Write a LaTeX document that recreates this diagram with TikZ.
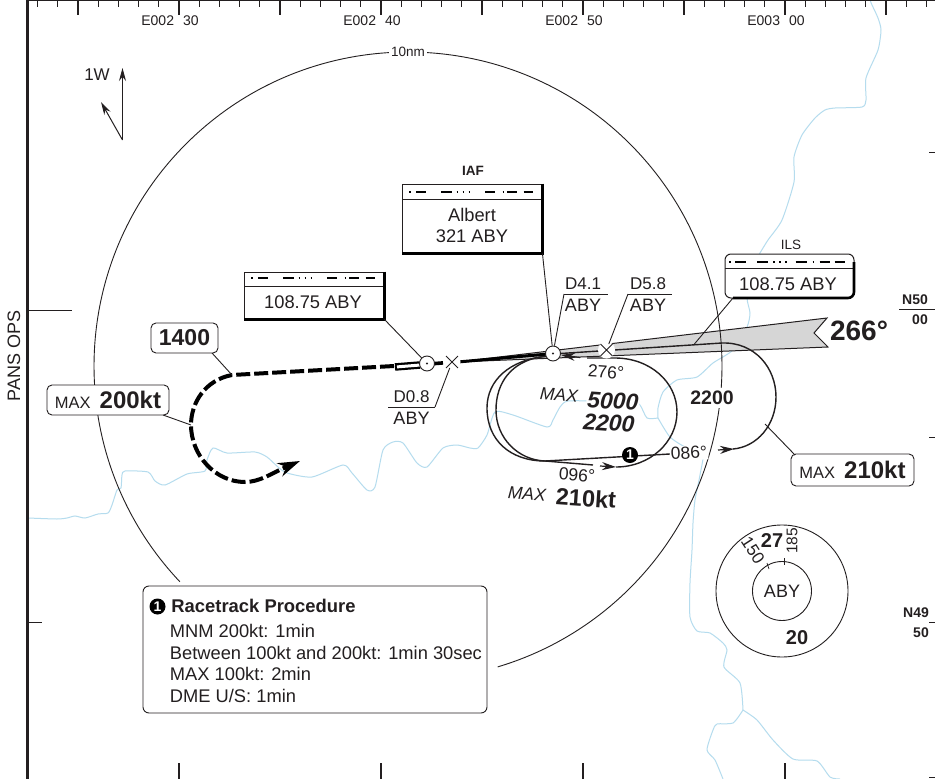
\documentclass[tikz,border=0pt]{standalone}
\usepackage{fontspec}
\setmainfont{Liberation Sans}
\usepackage{xcolor}
\usetikzlibrary{arrows.meta,shapes.misc}
\definecolor{ink}{HTML}{231F20}
\definecolor{river}{HTML}{B5DCEE}
\definecolor{wedge}{HTML}{D6D6D6}
\newcommand{\fs}[1]{\fontsize{#1pt}{#1pt}\selectfont}
\tikzstyle{navbox} = [rectangle, draw=ink, fill=white, line width=0.9pt]
\tikzstyle{ilsbox} = [navbox, rounded corners=6pt, line width=1pt]
\tikzstyle{tagbox} = [rectangle, draw=ink, fill=white, rounded corners=5pt, line width=0.9pt]
\tikzstyle{vor} = [circle, draw=ink, fill=white, line width=0.9pt, minimum size=15pt]
\tikzstyle{fixbg} = [circle, fill=white, minimum size=17pt]
\tikzstyle{fix} = [cross out, draw=ink, line width=0.9pt, minimum size=11pt]
\tikzstyle{numdot} = [circle, fill=black, text=white, minimum size=16pt, font=\fs{14}\bfseries]
\tikzstyle{morse} = [line width=1.6pt, black, dash pattern=on 1.5pt off 5.5pt on 10pt off 15pt on 11pt off 4.5pt on 1.5pt off 4.5pt on 1.5pt off 4.5pt on 1.5pt off 15pt on 10pt off 7.5pt on 1.5pt off 3pt on 10pt off 6.5pt on 10pt off 100pt]
\tikzstyle{morseils} = [line width=1.6pt, black, dash pattern=on 1.5pt off 4.5pt on 11pt off 11pt on 11pt off 5pt on 1.5pt off 4.5pt on 1.5pt off 4.5pt on 1.5pt off 9pt on 11pt off 6pt on 1.5pt off 5.5pt on 10pt off 5pt on 10pt off 100pt]
\tikzstyle{track} = [ink, line width=1.4pt]
\tikzstyle{outbound} = [line width=4pt, black, dash pattern=on 14pt off 4pt]
\tikzstyle{riverline} = [river, line width=1pt]
\tikzstyle{head} = [-{Stealth[length=14pt,width=8pt]}, ink, line width=1.2pt]
\begin{document}
\begin{tikzpicture}[x=1pt,y=-1pt,>=stealth,line width=0.9pt,every node/.style={inner sep=0pt,text=ink},font=\fs{18.3}]
  \useasboundingbox (0,0) rectangle (935,779);
  \fill[white] (0,0) rectangle (935,779);

  % rivers
  \draw[riverline] plot[smooth,tension=0.4] coordinates {(28,518) (57,519) (67,518) (75,516) (85,518) (98,514) (108,513) (112,505) (117,490) (121,488) (122,475) (125,471) (148,472) (155,481) (165,485) (187,474) (205,471) (207,460) (213,448) (227,453) (255,452) (267,457) (278,467) (287,473) (312,477) (343,465) (352,473) (367,490) (375,487) (383,450) (393,442) (403,443) (417,463) (427,467) (443,448) (457,445) (470,448) (478,448) (487,435) (495,412) (513,415) (547,427) (553,420) (560,407) (568,401) (600,401) (630,400) (640,405) (647,418) (658,418)};
  \draw[riverline] plot[smooth,tension=0.4] coordinates {(658,418) (658,408) (663,392) (677,380) (697,377) (713,363) (733,350) (747,327) (750,313) (747,297) (752,267) (760,253) (768,240) (782,220) (794,182) (794,157) (802,135) (815,118) (825,110) (835,108) (862,107) (866,100) (866,78) (878,50) (881,30) (878,18) (872,5) (870,0)};
  \draw[riverline] plot[smooth,tension=0.4] coordinates {(658,418) (670,437) (687,448) (703,452) (700,475) (695,500) (693,523) (692,550) (690,583) (690,617) (697,631) (710,633) (723,643) (727,650) (724,667) (740,683) (743,710)};
  \draw[riverline] plot[smooth,tension=0.4] coordinates {(743,710) (733,723) (717,724) (713,730) (707,750) (715,760) (723,779)};
  \draw[riverline] plot[smooth,tension=0.4] coordinates {(743,710) (757,720) (773,740) (793,759) (817,761) (830,777) (840,779)};

  % chart frame
  \draw[ink,line width=3pt] (27,0) -- (27,779);
  \draw[ink,line width=1.6pt] (27,0) -- (935,0);
  \foreach \i in {0,...,44}
    \draw[ink] ({37.5+20.2*\i},0) -- ++(0,7);
  \foreach \xa in {78,179,280,381,482,583,684,785,886}
    \draw[ink,line width=1.1pt] (\xa,0) -- (\xa,15);
  \foreach \xa in {179,381,583,785}
    \draw[ink,line width=1.1pt] (\xa,763) -- (\xa,779);
  \draw[ink] (27,310) -- (72,310);
  \draw[ink] (27,622) -- (42,622);
  \foreach \ya in {152,437,622,777}
    \draw[ink] (929,\ya) -- (935,\ya);
  \node (E_30) at (170,21) {\fs{14}E002\hspace{9pt}30};
  \node (E_40) at (372,21) {\fs{14}E002\hspace{9pt}40};
  \node (E_50) at (574,21) {\fs{14}E002\hspace{9pt}50};
  \node (E_00) at (776,21) {\fs{14}E003\hspace{9pt}00};
  \node (N_50) at (915,300) {\fs{14}\bfseries N50};
  \node (N_00) at (920,320) {\fs{14}\bfseries 00};
  \draw[ink] (899,309) -- (935,309);
  \node (N_49) at (916,613) {\fs{14}\bfseries N49};
  \node (N_5) at (921,633) {\fs{14}\bfseries 50};
  \node[rotate=90] (PANS) at (14,356) {\fs{18}PANS OPS};

  % magnetic variation
  \coordinate (V_0) at (122.5,140);
  \coordinate (V_T) at (122.5,68);
  \coordinate (V_M) at (101,102);
  \node (V_L) at (97,75) {\fs{17}1W};
  \draw[-{Stealth[length=13pt,width=7pt]},ink,line width=1pt] (V_0) -- (V_T);
  \draw[-{Stealth[length=13pt,width=7pt]},ink,line width=1pt] (V_0) -- (V_M);

  % ILS feather
  \coordinate (W_A) at (457,362);
  \coordinate (W_T) at (827,318);
  \coordinate (W_N) at (814,333);
  \coordinate (W_B) at (828,347);
  \filldraw[fill=wedge,draw=ink,line width=1pt] (W_A) -- (W_T) -- (W_N) -- (W_B) -- cycle;
  \draw[black,line width=3pt] (460,361.8) -- (548,354);

  % 10nm circle
  \coordinate (C) at (408,366);
  \draw[ink,line width=0.9pt] (C) ++(136.6:314) arc (136.6:433.4:314);
  \node[fill=white,inner xsep=2pt,inner ysep=2pt] (R_10) at (408,52) {\fs{13.5}10nm};

  % racetrack
  \coordinate (T_W) at (722,343);
  \draw[track] (553,354) -- (T_W) .. controls (755,342) and (776,368) .. (776,397) .. controls (776,425) and (757,447) .. (733,449);
  \draw[head] (718,450) -- (734,449);
  \draw[track] (552,355.5) -- (545,356.5) .. controls (510,360) and (487,380) .. (487,408) .. controls (487,440) and (510,461) .. (545,461) -- (670,454);
  \draw[track] (552,355.5) -- (540,357) .. controls (512,362) and (496,382) .. (496,410) .. controls (496,438) and (518,460) .. (545,461) -- (593,465);
  \draw[head] (600,466) -- (616,467);
  \draw[track] (616,467) .. controls (650,467) and (677,442) .. (677,412) .. controls (677,382) and (650,358) .. (615,358) -- (587,358);
  \draw[head] (580,357.5) -- (561,355);
  \node[numdot] (N_1) at (630,455) {1};
  \node[fill=white,rotate=3,inner sep=1pt] (L_086) at (689,453) {\fs{17.5}086°};
  \node[rotate=-4] (L_096) at (577,475) {\fs{17.5}096°};
  \node[rotate=-4] (L_276) at (606,372) {\fs{17.5}276°};
  \node[rotate=-4] (L_MAX) at (559,395) {\fs{17.5}\itshape MAX};
  \node[rotate=-4,fill=white,inner sep=1pt] (L_5000) at (613,401) {\fs{23}\bfseries\itshape 5000};
  \node[rotate=-4] (L_2200) at (609,423) {\fs{23}\bfseries\itshape 2200};
  \node[fill=white,inner sep=3pt] (R_2200) at (712,398) {\fs{19.5}\bfseries 2200};
  \node[rotate=-4] (L_MAXb) at (527,494) {\fs{17.5}\itshape MAX};
  \node[rotate=-4] (L_210) at (586,498) {\fs{23.5}\bfseries 210kt};
  \node (L_266) at (859,331) {\fs{28}\bfseries 266°};

  % outbound leg
  \coordinate (D_T) at (232,375);
  \coordinate (D_L) at (191,425);
  \draw[outbound,-{Stealth[length=22pt,width=14pt]}] (394,366) -- (D_T) .. controls (205,380) and (191,403) .. (D_L) .. controls (191,455) and (215,482) .. (245,482) .. controls (260,482) and (272,473) .. (300,461);
  \draw[black,line width=7.5pt] (395,367) -- (420,365);
  \draw[white,line width=3pt] (397,366.9) -- (424,364.7);
  \draw[black,line width=3.6pt] (434,363.6) -- (443,362.9);

  % fixes
  \node[vor] (V_A) at (427,363.5) {};
  \fill[ink] (V_A) circle (1.2);
  \node[vor] (V_B) at (553,353.5) {};
  \fill[ink] (V_B) circle (1.2);
  \node[fixbg] (X_Ag) at (452,362) {};
  \node[fix] (X_A) at (452,362) {};
  \node[fixbg] (X_Bg) at (606.5,350) {};
  \node[fix] (X_B) at (606.5,350) {};

  % navaid boxes
  \node (IAF) at (473,171) {\fs{13.5}\bfseries IAF};
  \node[navbox,minimum width=140pt,minimum height=69pt] (B_AL) at (472,218.5) {};
  \node (B_AL1) at (472,215) {Albert};
  \node (B_AL2) at (472,236) {321 ABY};
  \draw[ink,line width=0.7pt] (402,199) -- (542,199);
  \draw[morse] (409,192) -- (533,192);
  \draw[black,line width=3pt] (B_AL.north east) -- (B_AL.south east) -- (B_AL.south west);
  \path (B_AL.south east) edge[draw=ink] (V_B);

  \node[navbox,minimum width=140pt,minimum height=47pt] (B_LO) at (314,295.5) {};
  \node (B_LO1) at (313,302) {108.75 ABY};
  \draw[ink,line width=0.7pt] (244,286) -- (384,286);
  \draw[morse] (251,278) -- (375,278);
  \draw[black,line width=3pt] (B_LO.north east) -- (B_LO.south east) -- (B_LO.south west);
  \path (B_LO.south east) edge[draw=ink] (V_A);

  \node (B_ILST) at (791,245) {\fs{13.5}ILS};
  \node[ilsbox,minimum width=129pt,minimum height=44pt] (B_IL) at (789.5,276) {};
  \node (B_IL1) at (788,284) {108.75 ABY};
  \draw[ink,line width=0.7pt] (725,268) -- (854,268);
  \draw[morseils] (729,262) -- (846,262);
  \draw[black,line width=2.6pt,rounded corners=6pt] (854,262) -- (854,298) -- (733,298);
  \coordinate (W_L) at (694,344.5);
  \path (733,298) edge[draw=ink] (W_L);

  % DME labels
  \node (D_41) at (586,294) {};
  \node (D_41t) [above of=D_41, node distance=10pt, xshift=-3pt] {\fs{17}D4.1};
  \node (D_41b) [below of=D_41, node distance=11pt, xshift=-3pt] {\fs{18}ABY};
  \draw[ink] (564,294) -- (608,294);
  \path (564,294) edge[draw=ink] (V_B);
  \node (D_58) at (650,294) {};
  \node (D_58t) [above of=D_58, node distance=10pt, xshift=-2pt] {\fs{17}D5.8};
  \node (D_58b) [below of=D_58, node distance=11pt, xshift=-2pt] {\fs{18}ABY};
  \draw[ink] (628,294) -- (672,294);
  \path (628,294) edge[draw=ink] (X_B);
  \node (D_08) at (411.5,407) {};
  \node (D_08t) [above of=D_08, node distance=10pt] {\fs{17}D0.8};
  \node (D_08b) [below of=D_08, node distance=11pt] {\fs{18}ABY};
  \draw[ink] (388,407) -- (435,407);
  \path (435,407) edge[draw=ink] (X_A);

  % speed and altitude tags
  \node[tagbox,minimum width=67pt,minimum height=30pt] (T_1400) at (184.5,338) {\fs{23}\bfseries 1400};
  \path (212,353) edge[draw=ink] (D_T);
  \node[tagbox,minimum width=122pt,minimum height=30pt] (T_200) at (108,400) {\fs{16.5}MAX\hspace{9pt}\fs{24}\bfseries 200kt};
  \path (163,415) edge[draw=ink] (D_L);
  \node[tagbox,minimum width=123pt,minimum height=32pt] (T_210) at (852.5,470) {\fs{16.5}MAX\hspace{9pt}\fs{24}\bfseries 210kt};
  \path (795,455) edge[draw=ink] (765,424);

  % ABY sector altitudes
  \node[circle,draw=ink,minimum size=132pt] (S_O) at (782,591) {};
  \node[circle,draw=ink,minimum size=59pt] (S_I) at (782,591) {\fs{18}ABY};
  \draw[ink,line width=0.7pt] (784.3,558) -- (784.3,565);
  \draw[ink,line width=0.7pt] (767,563) -- (769,569);
  \node (S_27) at (772,541) {\fs{20}\bfseries 27};
  \node (S_20) at (797,638) {\fs{20}\bfseries 20};
  \node[rotate=90] (S_185) at (792,541) {\fs{15.5}185};
  \node[rotate=-57] (S_150) at (753,550) {\fs{17}150};

  % procedure note
  \node[tagbox,rounded corners=6pt,minimum width=344pt,minimum height=127pt] (P_B) at (315,649.5) {};
  \node[numdot] (P_N) at (157.5,606.5) {1};
  \node[anchor=west] (P_T) at (171,606) {\fs{18.4}\bfseries Racetrack Procedure};
  \node[anchor=west] (P_1) at (169.5,631) {\fs{18.3}MNM 200kt: 1min};
  \node[anchor=west] (P_2) at (169.5,653) {\fs{18.3}Between 100kt and 200kt: 1min 30sec};
  \node[anchor=west] (P_3) at (169.5,674) {\fs{18.3}MAX 100kt: 2min};
  \node[anchor=west] (P_4) at (169.5,696) {\fs{18.3}DME U/S: 1min};
\end{tikzpicture}
\end{document}
